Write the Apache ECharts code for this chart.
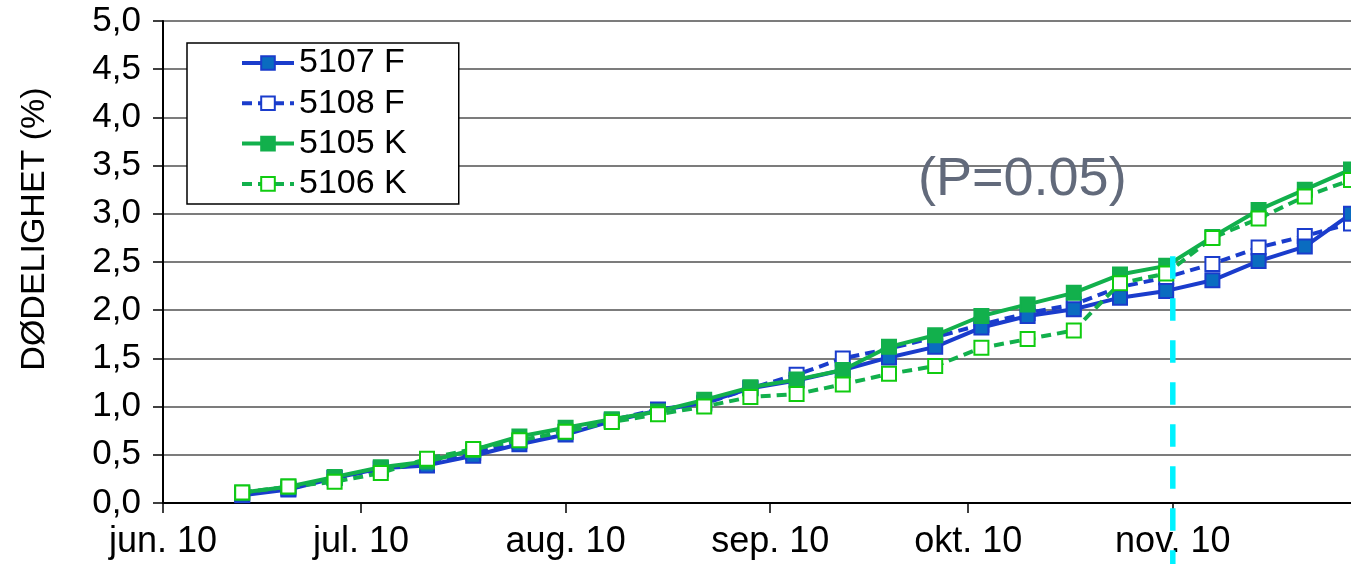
<!DOCTYPE html>
<html>
<head>
<meta charset="utf-8">
<script src="https://cdn.jsdelivr.net/npm/echarts@6/dist/echarts.min.js"></script>
<style>
html,body{margin:0;padding:0;background:#fff;}
#chart{width:1351px;height:564px;}
</style>
</head>
<body>
<div id="chart"></div>
<script>
// ---- data ----
const dates = ['2010-06-13','2010-06-20','2010-06-27','2010-07-04','2010-07-11','2010-07-18','2010-07-25',
  '2010-08-01','2010-08-08','2010-08-15','2010-08-22','2010-08-29','2010-09-05','2010-09-12','2010-09-19',
  '2010-09-26','2010-10-03','2010-10-10','2010-10-17','2010-10-24','2010-10-31','2010-11-07','2010-11-14',
  '2010-11-21','2010-11-28'];
const s5107F = [0.08,0.14,0.26,0.36,0.39,0.49,0.61,0.71,0.85,0.96,1.04,1.19,1.27,1.38,1.51,1.62,1.82,1.94,2.01,2.13,2.20,2.31,2.51,2.66,3.00];
const s5108F = [0.09,0.15,0.26,0.35,0.41,0.52,0.64,0.74,0.86,0.97,1.03,1.19,1.33,1.50,1.60,1.72,1.85,1.97,2.06,2.24,2.34,2.48,2.65,2.77,2.90];
const s5105K = [0.11,0.17,0.27,0.37,0.43,0.55,0.69,0.78,0.87,0.95,1.07,1.20,1.28,1.38,1.62,1.74,1.94,2.06,2.18,2.37,2.46,2.76,3.04,3.25,3.46];
const s5106K = [0.11,0.17,0.22,0.31,0.46,0.56,0.65,0.74,0.84,0.92,1.00,1.10,1.13,1.23,1.34,1.42,1.61,1.70,1.79,2.28,2.38,2.75,2.95,3.18,3.35];
const startDate = '2010-06-01';
const endDate = '2010-11-28';
const monthTickDates = ['2010-06-01','2010-07-01','2010-08-01','2010-09-01','2010-10-01','2010-11-01'];
const monthTickLabels = ['jun. 10','jul. 10','aug. 10','sep. 10','okt. 10','nov. 10'];
const markerDate = '2010-11-01';
const markerRange = [2.56, -0.64];
const annotation = '(P=0.05)';

// ---- helpers ----
const DAY = 86400000;
const dayOf = d => (Date.parse(d + 'T00:00:00Z') - Date.parse(startDate + 'T00:00:00Z')) / DAY;
const xs = dates.map(dayOf);
const pairs = arr => arr.map((v, i) => [xs[i], v]);
const tickDays = monthTickDates.map(dayOf);
const labelFor = {};
tickDays.forEach((d, i) => labelFor[d] = monthTickLabels[i]);

const FONT = "'Liberation Sans', Arial, sans-serif";
const BLUE = '#1a3ccc';
const BLUE_FILL = '#0a6cc0';
const GREEN = '#12b04c';
const GREEN_OPEN = '#10cc10';
const LW = 4;
const SYM = 14;

const chart = echarts.init(document.getElementById('chart'), null, {renderer: 'canvas'});
chart.setOption({
  backgroundColor: '#fff',
  animation: false,
  textStyle: {fontFamily: FONT},
  title: {
    text: annotation, left: 918, top: 150, padding: 0,
    textStyle: {fontFamily: FONT, fontSize: 54, fontWeight: 'normal', color: '#626a7b', lineHeight: 60}
  },
  grid: {left: 163, right: 0, top: 21, bottom: 61, containLabel: false},
  legend: {
    orient: 'vertical', left: 187, top: 43,
    data: ['5107 F', '5108 F', '5105 K', '5106 K'],
    backgroundColor: '#fff', borderColor: '#000', borderWidth: 1.5,
    padding: [3, 52, 3, 53], itemGap: 6.3, itemWidth: 52, itemHeight: 17,
    lineStyle: {width: LW},
    itemStyle: {borderWidth: 2},
    textStyle: {fontFamily: FONT, fontSize: 34, color: '#000', lineHeight: 34},
    selectedMode: false
  },
  xAxis: {
    type: 'value', min: 0, max: dayOf(endDate),
    axisLine: {show: true, onZero: false, lineStyle: {color: '#000', width: 2}},
    axisTick: {show: true, inside: false, length: 10, customValues: tickDays, lineStyle: {color: '#000', width: 1.5}},
    axisLabel: {show: true, customValues: tickDays, margin: 21, fontFamily: FONT, fontSize: 36, color: '#000',
      formatter: v => labelFor[v] || ''},
    splitLine: {show: false}
  },
  yAxis: {
    type: 'value', min: 0, max: 5, interval: 0.5,
    name: 'DØDELIGHET (%)', nameLocation: 'middle', nameGap: 111, nameRotate: 90,
    nameTextStyle: {fontFamily: FONT, fontSize: 34, color: '#000', padding: [0, 0, 0, 66]},
    axisLine: {show: true, lineStyle: {color: '#000', width: 2}},
    axisTick: {show: true, inside: false, length: 10, lineStyle: {color: '#000', width: 1.5}},
    axisLabel: {margin: 22, fontFamily: FONT, fontSize: 35, color: '#000',
      formatter: v => v.toFixed(1).replace('.', ',')},
    splitLine: {show: true, lineStyle: {color: '#505050', width: 1.5}}
  },
  series: [
    {
      name: '5108 F', type: 'line', data: pairs(s5108F), clip: false,
      symbol: 'rect', symbolSize: SYM,
      lineStyle: {color: BLUE, width: LW, type: [10, 6]},
      itemStyle: {color: '#fff', borderColor: BLUE, borderWidth: 2}, z: 2
    },
    {
      name: '5107 F', type: 'line', data: pairs(s5107F), clip: false,
      symbol: 'rect', symbolSize: SYM,
      lineStyle: {color: BLUE, width: LW},
      itemStyle: {color: BLUE_FILL, borderColor: BLUE, borderWidth: 2}, z: 3
    },
    {
      name: '5105 K', type: 'line', data: pairs(s5105K), clip: false,
      symbol: 'rect', symbolSize: SYM,
      lineStyle: {color: GREEN, width: LW},
      itemStyle: {color: GREEN, borderColor: GREEN, borderWidth: 2}, z: 4
    },
    {
      name: '5106 K', type: 'line', data: pairs(s5106K), clip: false,
      symbol: 'rect', symbolSize: SYM,
      lineStyle: {color: GREEN, width: LW, type: [10, 6]},
      itemStyle: {color: '#fff', borderColor: GREEN_OPEN, borderWidth: 2}, z: 5
    },
    {
      name: 'marker', type: 'line', clip: false, silent: true, symbol: 'none',
      data: markerRange.map(v => [dayOf(markerDate), v]),
      lineStyle: {color: '#00f2ff', width: 5.5, type: [22.5, 19.5]}, z: 10
    }
  ]
});
</script>
</body>
</html>
